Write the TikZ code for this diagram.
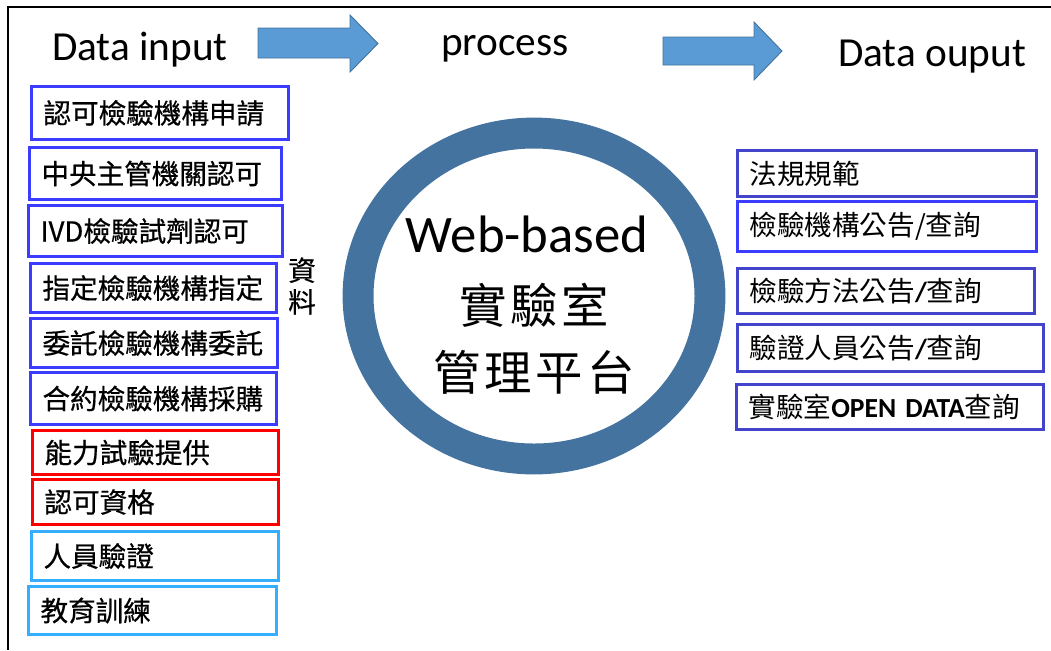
\documentclass[tikz,border=0pt]{standalone}
\usepackage{fontspec}
\setmainfont{Carlito}
\newfontfamily\cjk{Noto Sans CJK TC}
\newfontfamily\cjkbox[FakeBold=0.6]{Noto Sans CJK TC}
\newfontfamily\cjkwide[LetterSpace=8]{Noto Sans CJK TC}
\usetikzlibrary{shapes.geometric}

\definecolor{inblue}{HTML}{3C3CFF}
\definecolor{inred}{HTML}{FF0000}
\definecolor{incyan}{HTML}{35AEFF}
\definecolor{outblue}{HTML}{4343CC}
\definecolor{ringblue}{HTML}{44739F}
\definecolor{arrowfill}{HTML}{5B9BD5}
\definecolor{arrowline}{HTML}{41719C}

\tikzset{
	heading/.style={anchor=base, font=\fontsize{23.5}{28}\selectfont},
	listbox/.style={draw, line width=1.7pt, anchor=north west, inner xsep=0.24cm, inner ysep=1pt, align=left, font=\cjkbox\fontsize{15.7}{18}\selectfont},
	flowarrow/.style={fill=arrowfill, draw=arrowline, line width=0.5pt, line join=miter}
}

\begin{document}
\begin{tikzpicture}[x=0.02cm, y=-0.02cm]
		\useasboundingbox (0,0) rectangle (1051,650);
		\draw[line width=0.9pt] (8,650) -- (8,7) -- (1051,7);

		% headings and block arrows
		\node[heading] (input)   at (140,60) {Data input};
		\node[heading] (process) at (505,55) {process};
		\node[heading] (output)  at (932,66) {Data ouput};
		\draw[flowarrow] (258,28) -- (350,28) -- (350,15) -- (378,43.5) -- (350,72) -- (350,58) -- (258,58) -- cycle;
		\draw[flowarrow] (663,37) -- (754,37) -- (754,22) -- (782,51) -- (754,80) -- (754,65) -- (663,65) -- cycle;

		% input list
		\node[listbox, draw=inblue, text width=4.66cm, minimum height=1.06cm] (apply)     at (30,85)  {認可檢驗機構申請};
		\node[listbox, draw=inblue, text width=4.56cm, minimum height=1.04cm] (central)   at (28,146) {中央主管機關認可};
		\node[listbox, draw=inblue, text width=4.60cm, minimum height=1.02cm] (ivd)       at (27,204) {IVD檢驗試劑認可};
		\node[listbox, draw=inblue, text width=4.44cm, minimum height=0.98cm] (designate) at (29,262) {指定檢驗機構指定};
		\node[listbox, draw=inblue, text width=4.46cm, minimum height=0.98cm] (entrust)   at (29,317) {委託檢驗機構委託};
		\node[listbox, draw=inblue, text width=4.44cm, minimum height=1.04cm] (contract)  at (29,371) {合約檢驗機構採購};
		\node[listbox, draw=inred,  text width=4.44cm, minimum height=0.88cm] (profic)    at (31,429) {能力試驗提供};
		\node[listbox, draw=inred,  text width=4.44cm, minimum height=0.90cm] (qualify)   at (31,478) {認可資格};
		\node[listbox, draw=incyan, text width=4.46cm, minimum height=0.98cm] (staff)     at (30,530) {人員驗證};
		\node[listbox, draw=incyan, text width=4.48cm, minimum height=0.96cm] (training)  at (27,585) {教育訓練};
		\node[align=center, font=\cjkbox\fontsize{15.7}{18}\selectfont] (data) at (302,286) {資\\料};

		% platform
		\node[ellipse, draw=ringblue, line width=17.6pt, minimum width=7.04cm, minimum height=6.52cm] (hub) at (534,296) {};
		\node[anchor=base, font=\fontsize{30}{36}\selectfont] (web)    at (527,252) {Web-based};
		\node[font=\cjkwide\fontsize{27}{32}\selectfont]      (lab)    at (534,305) {實驗室};
		\node[font=\cjkwide\fontsize{27}{32}\selectfont]      (manage) at (534,372) {管理平台};

		% output list
		\node[listbox, draw=outblue, text width=5.50cm, minimum height=0.92cm] (law)      at (736,149) {{\cjk 法規規範}};
		\node[listbox, draw=inblue,  text width=5.50cm, minimum height=1.00cm] (agency)   at (736,200) {{\cjk 檢驗機構公告/查詢}};
		\node[listbox, draw=outblue, text width=5.46cm, minimum height=0.90cm] (method)   at (736,267) {{\cjk 檢驗方法公告}{\rmfamily\bfseries /}{\cjk 查詢}};
		\node[listbox, draw=outblue, text width=5.64cm, minimum height=0.94cm] (person)   at (736,323) {{\cjk 驗證人員公告}{\rmfamily\bfseries /}{\cjk 查詢}};
		\node[listbox, draw=outblue, text width=5.66cm, minimum height=0.90cm] (opendata) at (735,383) {{\cjk 實驗室}{\rmfamily\bfseries OPEN DATA}{\cjk 查詢}};
	\end{tikzpicture}
\end{document}
